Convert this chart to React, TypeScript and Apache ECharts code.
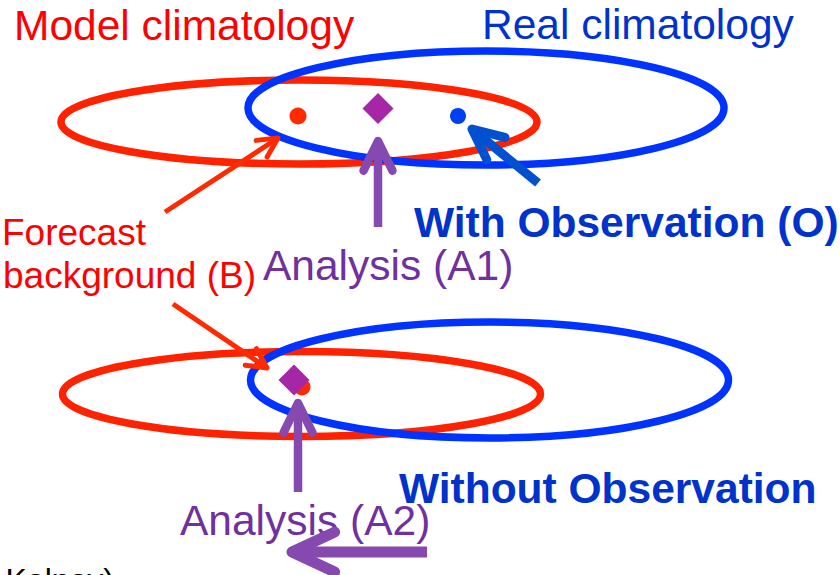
import React, { useEffect, useRef } from 'react';
import * as echarts from 'echarts';

// ---- Data (diagram coordinates, y grows downward) ----
const ELLIPSE_NAMES = ['Model climatology (with O)', 'Real climatology (with O)', 'Model climatology (without O)', 'Real climatology (without O)'];
const ELLIPSE_CENTER_X = [299, 486, 301.5, 489.5];
const ELLIPSE_CENTER_Y = [122, 108, 394, 380];
const ELLIPSE_RADIUS_X = [238, 238, 239, 239];
const ELLIPSE_RADIUS_Y = [42, 57, 42.5, 58];
const ELLIPSE_KIND = [0, 1, 0, 1]; // 0 = model, 1 = real

const ARROW_NAMES = ['Forecast→B (top)', 'Forecast→B (bottom)', 'Analysis A1', 'Observation O', 'Analysis A2', 'Shift A2'];
const ARROW_TAIL_X = [165, 173, 378, 538, 298, 427];
const ARROW_TAIL_Y = [212, 304, 227, 183, 492, 552];
const ARROW_TIP_X = [278, 267, 378, 472, 298, 292];
const ARROW_TIP_Y = [138, 368, 141, 129, 403, 552];
const ARROW_KIND = [0, 0, 1, 2, 1, 3]; // 0 forecast, 1 analysis, 2 observation, 3 wide analysis

const BACKGROUND_X = [298, 302];
const BACKGROUND_Y = [116, 387];
const ANALYSIS_X = [378, 294];
const ANALYSIS_Y = [108.5, 380];
const OBSERVATION_X = [458];
const OBSERVATION_Y = [116];

const TEXT_MODEL = 'Model climatology';
const TEXT_REAL = 'Real climatology';
const TEXT_WITH = 'With Observation (O)';
const TEXT_WITHOUT = 'Without Observation';
const TEXT_A1 = 'Analysis (A1)';
const TEXT_A2 = 'Analysis (A2)';
const TEXT_FORECAST_1 = 'Forecast';
const TEXT_FORECAST_2 = 'background (B)';
const TEXT_CREDIT = 'Kalnay)';

// ---- Styles ----
const ELLIPSE_COLORS = ['#ff2200', '#0033ff'];
const ARROW_STYLES = [
  { color: '#ff2a00', width: 5, len: 22, angle: 27 },
  { color: '#8549b0', width: 8.5, len: 33, angle: 26 },
  { color: '#0050d0', width: 9, len: 34, angle: 25 },
  { color: '#8549b0', width: 11, len: 47, angle: 25 },
];
const FONT = '"Liberation Sans", Arial, Helvetica, sans-serif';

function textEl(text: string, x: number, y: number, size: number, color: string, bold = false) {
  return {
    type: 'text',
    x: 0,
    y: 0,
    silent: true,
    style: {
      text,
      x,
      y,
      fill: color,
      fontSize: size,
      fontFamily: FONT,
      fontWeight: bold ? 'bold' : 'normal',
      align: 'left',
      textAlign: 'left',
      verticalAlign: 'middle',
      textVerticalAlign: 'middle',
    },
  };
}

export default function App() {
  const ref = useRef<HTMLDivElement>(null);

  useEffect(() => {
    if (!ref.current) return;
    const chart = echarts.init(ref.current, undefined, { renderer: 'svg' });

    const ellipseData = ELLIPSE_NAMES.map((name, i) => ({
      name,
      value: [ELLIPSE_CENTER_X[i], ELLIPSE_CENTER_Y[i], ELLIPSE_RADIUS_X[i], ELLIPSE_RADIUS_Y[i], ELLIPSE_KIND[i]],
    }));
    const arrowData = ARROW_NAMES.map((name, i) => ({
      name,
      value: [ARROW_TAIL_X[i], ARROW_TAIL_Y[i], ARROW_TIP_X[i], ARROW_TIP_Y[i], ARROW_KIND[i]],
    }));

    const option: any = {
      animation: false,
      backgroundColor: '#ffffff',
      grid: { left: 0, right: 0, top: 0, bottom: 0 },
      xAxis: { type: 'value', min: 0, max: 840, show: false },
      yAxis: { type: 'value', min: 0, max: 575, inverse: true, show: false },
      series: [
        {
          type: 'custom',
          name: 'climatology',
          data: ellipseData,
          encode: { x: 0, y: 1 },
          renderItem: (params: any, api: any) => {
            const c = api.coord([api.value(0), api.value(1)]);
            const s = api.size([api.value(2), api.value(3)]);
            const kind = api.value(4);
            return {
              type: 'ellipse',
              shape: { cx: c[0], cy: c[1], rx: Math.abs(s[0]), ry: Math.abs(s[1]) },
              style: { fill: 'none', stroke: ELLIPSE_COLORS[kind], lineWidth: 7.5 },
            };
          },
        },
        {
          type: 'custom',
          name: 'arrows',
          data: arrowData,
          encode: { x: [0, 2], y: [1, 3] },
          renderItem: (params: any, api: any) => {
            const p1 = api.coord([api.value(0), api.value(1)]);
            const p2 = api.coord([api.value(2), api.value(3)]);
            const st = ARROW_STYLES[api.value(4)];
            const dx = p1[0] - p2[0];
            const dy = p1[1] - p2[1];
            const L = Math.sqrt(dx * dx + dy * dy) || 1;
            const ux = dx / L;
            const uy = dy / L;
            const a = (st.angle * Math.PI) / 180;
            const rot = (ang: number) => [
              p2[0] + st.len * (ux * Math.cos(ang) - uy * Math.sin(ang)),
              p2[1] + st.len * (ux * Math.sin(ang) + uy * Math.cos(ang)),
            ];
            const style = { fill: 'none', stroke: st.color, lineWidth: st.width, lineCap: 'round', lineJoin: 'round' };
            return {
              type: 'group',
              children: [
                { type: 'line', shape: { x1: p1[0], y1: p1[1], x2: p2[0], y2: p2[1] }, style: { ...style, lineCap: 'butt' } },
                { type: 'polyline', shape: { points: [rot(a), [p2[0], p2[1]], rot(-a)] }, style },
              ],
            };
          },
        },
        {
          type: 'scatter',
          name: 'Forecast background (B)',
          data: BACKGROUND_X.map((x, i) => [x, BACKGROUND_Y[i]]),
          symbol: 'circle',
          symbolSize: 17,
          itemStyle: { color: '#ff2a00', opacity: 1 },
        },
        {
          type: 'scatter',
          name: 'Analysis',
          data: ANALYSIS_X.map((x, i) => [x, ANALYSIS_Y[i]]),
          symbol: 'diamond',
          symbolSize: 31,
          itemStyle: { color: '#a526a6', opacity: 1 },
        },
        {
          type: 'scatter',
          name: 'Observation (O)',
          data: OBSERVATION_X.map((x, i) => [x, OBSERVATION_Y[i]]),
          symbol: 'circle',
          symbolSize: 16,
          itemStyle: { color: '#0040f0', opacity: 1 },
        },
      ],
      graphic: {
        elements: [
          textEl(TEXT_MODEL, 14, 25.3, 42.5, '#ff0000'),
          textEl(TEXT_REAL, 482, 24.8, 42.5, '#0033cc'),
          textEl(TEXT_WITH, 414, 222.3, 42.5, '#0033cc', true),
          textEl(TEXT_A1, 263, 265.3, 42.5, '#7030a0'),
          textEl(TEXT_FORECAST_1, 2, 232.7, 37, '#ff0000'),
          textEl(TEXT_FORECAST_2, 3, 275.2, 37, '#ff0000'),
          textEl(TEXT_WITHOUT, 399, 488.3, 42.5, '#0033cc', true),
          textEl(TEXT_A2, 180, 520.3, 42.5, '#7030a0'),
          textEl(TEXT_CREDIT, 5.5, 580, 32, '#000000'),
        ],
      },
    };

    chart.setOption(option);
    return () => {
      chart.dispose();
    };
  }, []);

  return (
    <div
      ref={ref}
      style={{ position: 'absolute', left: 0, top: 0, width: 840, height: 575, background: '#ffffff', overflow: 'hidden' }}
    />
  );
}
